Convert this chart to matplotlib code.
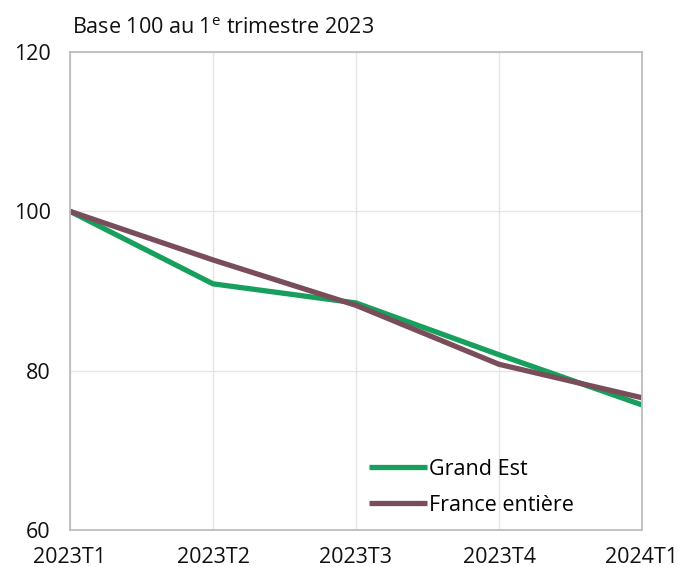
import matplotlib

matplotlib.use("Agg")
import matplotlib.pyplot as plt

quarters = ["2023T1", "2023T2", "2023T3", "2023T4", "2024T1"]
grand_est = [100.0, 90.9, 88.5, 82.0, 75.7]
france = [100.0, 93.9, 88.2, 80.8, 76.6]

plt.rcParams["font.family"] = ["Open Sans", "DejaVu Sans"]
plt.rcParams["mathtext.fontset"] = "custom"
plt.rcParams["mathtext.rm"] = "Open Sans"

fig = plt.figure(figsize=(6.78, 5.67), dpi=100)
ax = fig.add_axes([70 / 678, 37 / 567, 572 / 678, 478 / 567])

x = range(len(quarters))
ax.plot(x, grand_est, color="#17a05d", lw=3.8, label="Grand Est", solid_capstyle="butt")
ax.plot(x, france, color="#7a4d5b", lw=3.8, label="France entière", solid_capstyle="butt")

ax.set_xlim(0, len(quarters) - 1)
ax.set_ylim(60, 120)
ax.set_xticks(list(x))
ax.set_xticklabels(quarters)
ax.set_yticks([60, 80, 100, 120])

ax.grid(True, color="#e4e4e4", lw=1)
ax.set_axisbelow(True)
for side in ax.spines.values():
    side.set_color("#bdbdbd")
    side.set_linewidth(1.3)
ax.tick_params(length=0, labelsize=15.5, colors="#111111")
ax.tick_params(axis="x", pad=12)
ax.tick_params(axis="y", pad=14)

fig.text(72 / 678, 1 - 28 / 567, r"Base 100 au 1$^{\mathrm{e}}$ trimestre 2023",
         fontsize=15.5, va="center", ha="left", color="#111111")

ax.legend(loc="lower left", bbox_to_anchor=(0.522, 0.03), frameon=False, fontsize=15.5,
          handlelength=2.7, handletextpad=0.12, labelspacing=0.68,
          borderpad=0, borderaxespad=0)

fig.savefig("out.png", dpi=100)
